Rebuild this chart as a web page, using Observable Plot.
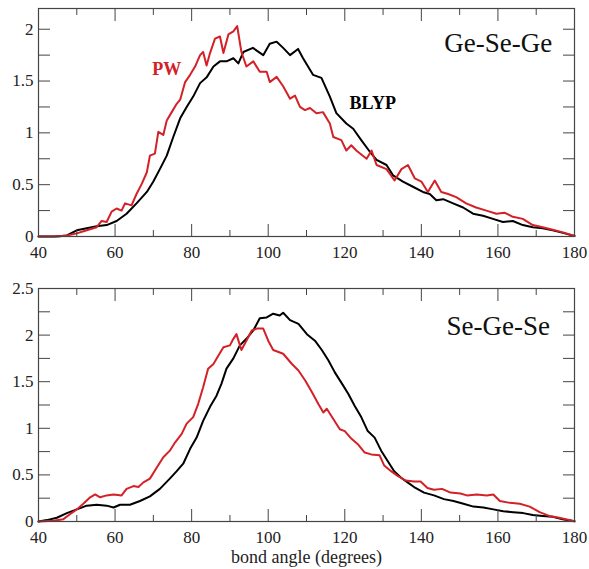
<!DOCTYPE html>
<html>
<head>
<meta charset="utf-8">
<script src="https://cdn.jsdelivr.net/npm/d3@7"></script>
<script src="https://cdn.jsdelivr.net/npm/@observablehq/plot@0.6"></script>
<style>
  body { margin: 0; background: #fff; }
  #chart svg { display: block; }
  #chart svg, #chart svg text { font-family: "Liberation Serif", "DejaVu Serif", serif !important; }
</style>
</head>
<body>
<div id="chart"></div>
<script>
// ---- Data ----
// Panel 1: Ge-Se-Ge bond-angle distribution
const gsgBlypAngle = [40,44,46,47.4,50,52.6,55.2,57.8,60.4,63,65.6,68.3,70,71.7,73.5,75.2,77,78.7,80.4,82.2,84,85.7,87.4,89.1,90.9,92.2,93.5,96,98.7,100.4,102.2,103.9,105.7,107.8,109.1,111.7,113.9,116.1,117.8,120.4,122.2,124.3,126.5,128.3,130.9,132.6,135.2,137.8,140.4,142.2,143.9,145.7,148.3,150.9,153.5,156.1,158.7,161.3,163.9,166.5,169.1,171.7,174.3,177,180];
const gsgBlypValue = [0,0,0.005,0.01,0.06,0.08,0.10,0.11,0.15,0.22,0.32,0.43,0.53,0.65,0.78,0.96,1.14,1.25,1.35,1.48,1.54,1.64,1.69,1.69,1.72,1.67,1.78,1.82,1.75,1.86,1.88,1.82,1.75,1.81,1.72,1.56,1.53,1.35,1.19,1.09,1.04,0.93,0.82,0.74,0.69,0.59,0.53,0.48,0.43,0.41,0.35,0.36,0.32,0.28,0.22,0.20,0.17,0.14,0.15,0.11,0.09,0.08,0.06,0.035,0.005];
const gsgPwAngle = [40,45,47.4,50,52.6,55.2,56.5,57.8,59.1,60.4,61.7,62.6,64.3,65.6,67,68.3,69.1,70.4,71.3,72.6,73.5,74.8,76.1,77,78.3,79.6,80.9,82.2,83,83.9,84.8,86.1,87.4,88.3,89.6,90.9,91.9,93,94.3,96.1,97.8,99.6,100.4,102.2,103.9,105.7,107,108.3,109.6,110.9,112.6,114.3,116.1,117,119.1,120.4,121.7,123,125.7,127,128.3,130.9,133,134.8,136.5,138.3,140,141.7,143.5,145.2,147,149.1,151.7,154.3,157,159.6,161.7,163.9,166.5,169.1,171.7,174.3,177,180];
const gsgPwValue = [0,0,0.01,0.03,0.06,0.09,0.15,0.14,0.24,0.27,0.25,0.32,0.30,0.41,0.51,0.62,0.78,0.80,1.01,0.98,1.12,1.20,1.28,1.32,1.49,1.56,1.64,1.75,1.78,1.65,1.77,1.91,1.93,1.77,1.95,1.98,2.03,1.78,1.64,1.69,1.59,1.59,1.49,1.54,1.45,1.33,1.36,1.25,1.22,1.24,1.19,1.20,1.09,0.96,0.93,0.83,0.88,0.83,0.75,0.83,0.69,0.65,0.54,0.65,0.69,0.56,0.53,0.43,0.54,0.43,0.41,0.38,0.32,0.28,0.25,0.22,0.23,0.19,0.17,0.11,0.09,0.065,0.04,0.005];

// Panel 2: Se-Ge-Se bond-angle distribution
const sgsBlypAngle = [40,42.2,44.8,47.4,50,52.6,55.2,57.8,59.6,61.3,63.9,66.5,69.1,71.7,74.3,76.1,77.8,79.6,81.3,83,84.8,86.5,87.8,89.1,90.9,92.6,94.3,96.1,97.8,99.6,101.3,103,103.9,105.7,107.9,110.1,112.2,114,115.7,117.4,119.1,120.9,122.6,124.3,126,127.8,129.5,131.2,132.9,134.7,136.4,138.1,140.7,143.3,145.9,148.4,151,153.6,156.2,158.8,161.4,164,166.6,169.1,171.7,174.3,176.9,180];
const sgsBlypValue = [0,0.015,0.04,0.09,0.13,0.17,0.18,0.17,0.15,0.18,0.18,0.22,0.27,0.35,0.46,0.54,0.62,0.78,0.90,1.08,1.23,1.35,1.48,1.64,1.75,1.89,1.96,2.05,2.18,2.19,2.23,2.21,2.24,2.16,2.12,2.01,1.94,1.84,1.73,1.60,1.49,1.37,1.24,1.12,0.97,0.90,0.76,0.65,0.54,0.47,0.42,0.37,0.31,0.28,0.24,0.22,0.19,0.16,0.15,0.13,0.11,0.10,0.09,0.07,0.06,0.05,0.025,0.003];
const sgsPwAngle = [40,43.9,46.5,48.3,50,51.7,53.5,54.8,56.1,57.8,59.6,61.7,63,64.8,66.1,67.4,69.1,70.9,72.6,74.3,75.7,77.4,78.7,80.4,81.7,83,84.3,85.7,87,88.3,90,90.9,91.7,93,94.3,95.7,97,98.7,100,101.3,103.9,106.2,107.9,109.7,111.4,113.1,114.4,115.3,117,118.7,120,121.7,123.4,125.2,126.9,129.1,130.3,132.1,133.8,135.9,138.1,139.8,141.6,143.3,145.4,147.6,150.2,151.9,154.5,157.1,158.8,160.5,163.1,165.7,168.3,170.9,173.4,176,180];
const sgsPwValue = [0,0.007,0.025,0.08,0.13,0.19,0.26,0.29,0.26,0.28,0.29,0.28,0.35,0.38,0.37,0.42,0.46,0.58,0.69,0.76,0.85,0.94,1.05,1.12,1.26,1.44,1.64,1.69,1.78,1.87,1.89,1.96,2.01,1.84,1.94,2.05,2.07,2.07,1.94,1.84,1.80,1.69,1.62,1.51,1.39,1.26,1.17,1.21,1.10,0.99,0.97,0.89,0.83,0.74,0.72,0.71,0.60,0.54,0.49,0.44,0.43,0.43,0.36,0.34,0.35,0.31,0.30,0.28,0.29,0.28,0.29,0.22,0.20,0.19,0.16,0.10,0.06,0.04,0.003];

// Tick values and labels
const xMajorTicks = [40, 60, 80, 100, 120, 140, 160, 180];
const xMinorTicks = [50, 70, 90, 110, 130, 150, 170];
const yTicksTop = [0, 0.25, 0.5, 0.75, 1, 1.25, 1.5, 1.75, 2];
const yLabelsTop = [0, 0.5, 1, 1.5, 2];
const yTicksBottom = [0, 0.25, 0.5, 0.75, 1, 1.25, 1.5, 1.75, 2, 2.25, 2.5];
const yLabelsBottom = [0, 0.5, 1, 1.5, 2, 2.5];
const seriesNames = ["BLYP", "PW"];
const seriesColors = ["#000000", "#d42027"];

function toRows(angles, values) {
  return angles.map((a, i) => ({angle: a, value: values[i]}));
}

const FONT = "Liberation Serif";
const AXIS_COLOR = "#444";

function panel({blyp, pw, yMax, yTicks, yLabels, title, titleX, titleY, extra, height, marginTop, marginBottom}) {
  const tickFmt = d => String(d);
  const none = () => "";
  return Plot.plot({
    width: 589,
    height,
    marginLeft: 38,
    marginRight: 15,
    marginTop,
    marginBottom,
    style: {color: "#222", background: "#fff", overflow: "visible"},
    x: {domain: [40, 180], label: null},
    y: {domain: [0, yMax], label: null},
    marks: [
      Plot.line(blyp, {x: "angle", y: "value", stroke: seriesColors[0], strokeWidth: 2}),
      Plot.line(pw, {x: "angle", y: "value", stroke: seriesColors[1], strokeWidth: 2}),
      Plot.frame({stroke: AXIS_COLOR, strokeWidth: 1.2}),
      // inward ticks
      Plot.axisX(xMajorTicks, {anchor: "bottom", tickSize: -12, tickFormat: none, label: null, stroke: AXIS_COLOR}),
      Plot.axisX(xMinorTicks, {anchor: "bottom", tickSize: -6, tickFormat: none, label: null, stroke: AXIS_COLOR}),
      Plot.axisX(xMajorTicks, {anchor: "top", tickSize: -12, tickFormat: none, label: null, stroke: AXIS_COLOR}),
      Plot.axisX(xMinorTicks, {anchor: "top", tickSize: -6, tickFormat: none, label: null, stroke: AXIS_COLOR}),
      Plot.axisY(yTicks, {anchor: "left", tickSize: -12, tickFormat: none, label: null, stroke: AXIS_COLOR}),
      Plot.axisY(yTicks, {anchor: "right", tickSize: -12, tickFormat: none, label: null, stroke: AXIS_COLOR}),
      // labels
      Plot.axisX(xMajorTicks, {anchor: "bottom", tickSize: 0, tickPadding: 9, tickFormat: tickFmt, label: null, fontSize: 17, fontFamily: FONT, fill: "#222"}),
      Plot.axisY(yLabels, {anchor: "left", tickSize: 0, tickPadding: 5, tickFormat: tickFmt, label: null, fontSize: 17, fontFamily: FONT, fill: "#222"}),
      Plot.text([title], {x: titleX, y: titleY, textAnchor: "end", fontSize: 27, fontFamily: FONT, fill: "#111"}),
      ...extra
    ]
  });
}

const topPanel = panel({
  blyp: toRows(gsgBlypAngle, gsgBlypValue),
  pw: toRows(gsgPwAngle, gsgPwValue),
  yMax: 2.2, yTicks: yTicksTop, yLabels: yLabelsTop,
  title: "Ge-Se-Ge", titleX: 174.2, titleY: 1.86,
  height: 262, marginTop: 8, marginBottom: 26,
  extra: [
    Plot.text([seriesNames[1]], {x: 73.5, y: 1.61, fontSize: 18, fontWeight: "bold", fontFamily: FONT, fill: seriesColors[1]}),
    Plot.text([seriesNames[0]], {x: 127.3, y: 1.29, fontSize: 18, fontWeight: "bold", fontFamily: FONT, fill: seriesColors[0]})
  ]
});

const bottomPanel = panel({
  blyp: toRows(sgsBlypAngle, sgsBlypValue),
  pw: toRows(sgsPwAngle, sgsPwValue),
  yMax: 2.5, yTicks: yTicksBottom, yLabels: yLabelsBottom,
  title: "Se-Ge-Se", titleX: 173.6, titleY: 2.09,
  height: 307, marginTop: 26, marginBottom: 48,
  extra: [
    Plot.text(["bond angle (degrees)"], {frameAnchor: "bottom", lineAnchor: "middle", dy: 35.5, fontSize: 18, fontFamily: FONT, fill: "#222"})
  ]
});

document.getElementById("chart").append(topPanel, bottomPanel);
</script>
</body>
</html>
